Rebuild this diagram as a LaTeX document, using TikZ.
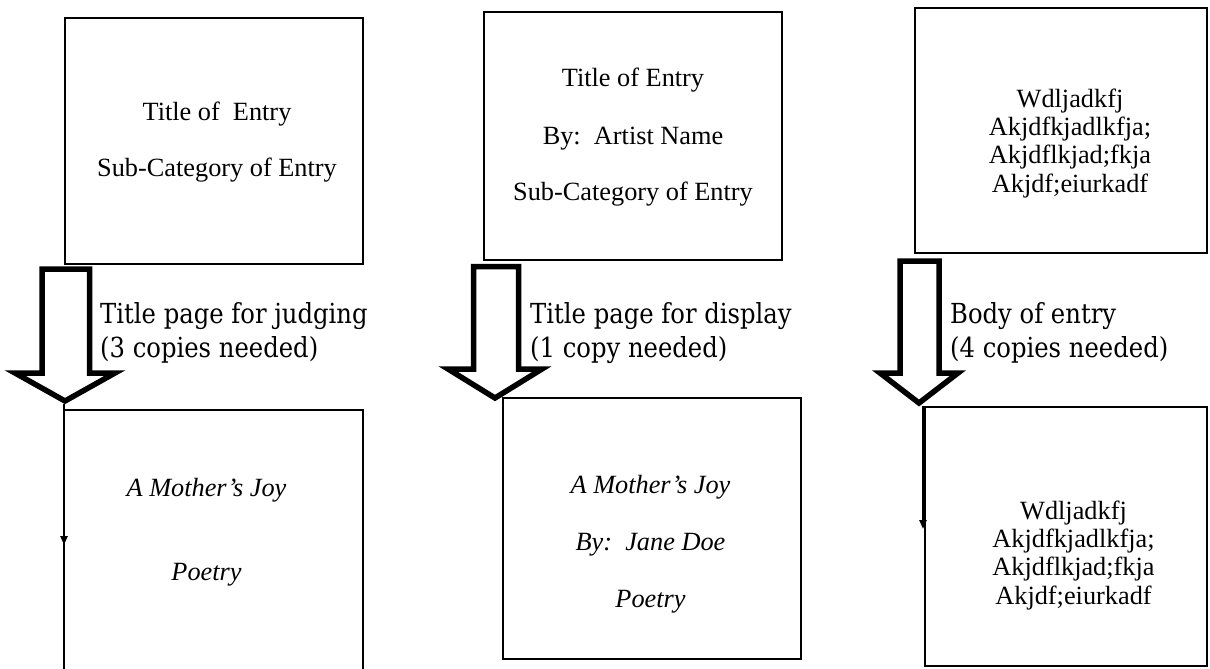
\documentclass[tikz,border=0pt]{standalone}
\usepackage{fontspec}
\setmainfont{Liberation Serif}
\newfontfamily\labelfont[FakeStretch=0.88]{DejaVu Serif}
\usetikzlibrary{arrows.meta}
\begin{document}
\begin{tikzpicture}[x=1pt,y=-1pt,
  pagebox/.style={draw,line width=2pt,inner sep=0pt},
  boxtxt/.style={font=\fontsize{26.3}{28.3}\selectfont,inner sep=0pt,align=center,anchor=base},
  itxt/.style={font=\itshape\fontsize{26.3}{30}\selectfont,inner sep=0pt,anchor=base},
  lbl/.style={font=\labelfont\fontsize{27.6}{34}\selectfont,inner sep=0pt,align=left,anchor=base west},
  blockarrow/.style={draw,line width=5.5pt,miter limit=10,fill=white},
  conn/.style={line width=2.5pt,-{Triangle[length=9pt,width=7pt]}}]
\useasboundingbox (0,0) rectangle (1210,669);
\clip (0,0) rectangle (1210,669);

% top boxes
\node[pagebox,minimum width=298pt,minimum height=246pt] (t1) at (214,141) {};
\node[pagebox,minimum width=298pt,minimum height=248pt] (t2) at (633,136) {};
\node[pagebox,minimum width=292pt,minimum height=245pt] (t3) at (1061,130.5) {};

\node[boxtxt] (t1a) at (217,120) {Title of\ \ Entry};
\node[boxtxt] (t1b) at (217,176) {Sub-Category of Entry};
\node[boxtxt] (t2a) at (633,87) {Title of Entry};
\node[boxtxt] (t2b) at (633,144) {By:\ \ Artist Name};
\node[boxtxt] (t2c) at (633,200) {Sub-Category of Entry};
% anchor base = baseline of the last line
\node[boxtxt] (t3a) at (1070,192) {Wdljadkfj\\Akjdfkjadlkfja;\\Akjdflkjad;fkja\\Akjdf;eiurkadf};

% bottom boxes
\node[pagebox,minimum width=299pt,minimum height=300pt] (b1) at (213.5,560) {};
\node[pagebox,minimum width=298pt,minimum height=261pt] (b2) at (652,528.5) {};
\node[pagebox,minimum width=282pt,minimum height=259pt] (b3) at (1066,536.5) {};

\node[itxt] (b1a) at (206.5,496) {A Mother’s Joy};
\node[itxt] (b1b) at (206.5,580) {Poetry};
\node[itxt] (b2a) at (650.5,493) {A Mother’s Joy};
\node[itxt] (b2b) at (650.5,550) {By:\ \ Jane Doe};
\node[itxt] (b2c) at (650.5,607) {Poetry};
\node[boxtxt] (b3a) at (1073.5,604) {Wdljadkfj\\Akjdfkjadlkfja;\\Akjdflkjad;fkja\\Akjdf;eiurkadf};

% block arrows
\draw[blockarrow] (42,269) -- (89.5,269) -- (89.5,373) -- (115,373) -- (65,401) -- (15,373) -- (42,373) -- cycle;
\draw[blockarrow] (473.5,266.5) -- (518.5,266.5) -- (518.5,369) -- (542,369) -- (495,398) -- (448,369) -- (473.5,369) -- cycle;
\draw[blockarrow] (900,261) -- (939,261) -- (939,373) -- (958,373) -- (919,403) -- (880,373) -- (900,373) -- cycle;

% labels (anchor at the baseline of the second line)
\node[lbl] (l1) at (100,357) {Title page for judging\\(3 copies needed)};
\node[lbl] (l2) at (530,357) {Title page for display\\(1 copy needed)};
\node[lbl] (l3) at (950,357) {Body of entry\\(4 copies needed)};

% thin connectors
\coordinate (tip1) at (64,404);
\coordinate (e1) at (64,545);
\coordinate (tip3) at (923,406);
\coordinate (e3) at (923,529);
\draw[conn] (tip1) -- (e1);
\draw[conn] (tip3) -- (e3);
\end{tikzpicture}
\end{document}
